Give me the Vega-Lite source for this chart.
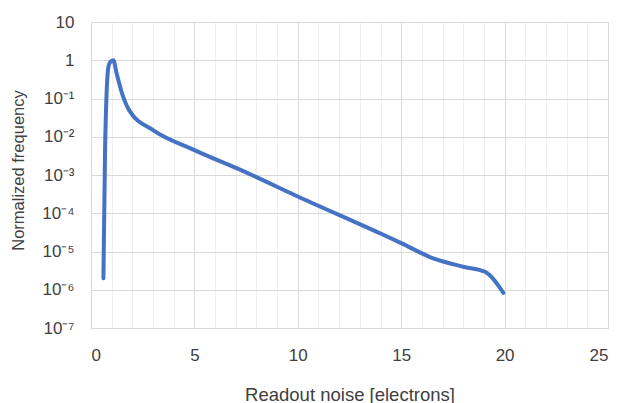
{
  "$schema": "https://vega.github.io/schema/vega-lite/v6.json",
  "width": 517,
  "height": 306,
  "autosize": {"type": "none"},
  "padding": {"left": 91, "top": 22, "right": 9, "bottom": 75},
  "background": "white",
  "config": {"view": {"stroke": null}, "font": "Liberation Sans"},
  "data": {
    "values": [
      {"noise": 0.6, "freq": 2.0e-6},
      {"noise": 0.68, "freq": 4.5e-3},
      {"noise": 0.76, "freq": 0.166},
      {"noise": 0.85, "freq": 0.71},
      {"noise": 0.95, "freq": 0.93},
      {"noise": 1.08, "freq": 1.0},
      {"noise": 1.24, "freq": 0.45},
      {"noise": 1.48, "freq": 0.148},
      {"noise": 1.85, "freq": 0.049},
      {"noise": 3.0, "freq": 0.0148},
      {"noise": 5.0, "freq": 0.00447},
      {"noise": 7.5, "freq": 0.00117},
      {"noise": 10.0, "freq": 0.000275},
      {"noise": 14.0, "freq": 2.95e-5},
      {"noise": 15.0, "freq": 1.66e-5},
      {"noise": 16.55, "freq": 6.6e-6},
      {"noise": 18.0, "freq": 4.0e-6},
      {"noise": 19.05, "freq": 2.95e-6},
      {"noise": 19.94, "freq": 8.3e-7}
    ]
  },
  "mark": {"type": "line", "color": "#4472C4", "strokeWidth": 4, "interpolate": "monotone", "strokeCap": "round", "strokeJoin": "round"},
  "encoding": {
    "x": {
      "field": "noise", "type": "quantitative",
      "scale": {"domain": [0, 25], "nice": false, "zero": false},
      "axis": {
        "title": "Readout noise [electrons]",
        "values": [0,1,2,3,4,5,6,7,8,9,10,11,12,13,14,15,16,17,18,19,20,21,22,23,24,25],
        "labelExpr": "datum.value % 5 === 0 ? datum.label : ''",
        "grid": true,
        "gridColor": {"condition": {"test": "datum.value % 5 === 0", "value": "#d9d9d9"}, "value": "#efefef"},
        "gridWidth": 1,
        "ticks": false,
        "domain": true, "domainColor": "#d9d9d9",
        "labelFontSize": 17, "labelColor": "#404040", "labelPadding": 19,
        "titleFontSize": 18.5, "titleFontWeight": "normal", "titleColor": "#404040", "titlePadding": 22
      }
    },
    "y": {
      "field": "freq", "type": "quantitative",
      "scale": {"type": "log", "domain": [1e-7, 10], "nice": false},
      "axis": {
        "title": "Normalized frequency",
        "values": [1e-7, 1e-6, 1e-5, 1e-4, 1e-3, 1e-2, 1e-1, 1, 10],
        "labelExpr": "datum.value >= 10 ? '10' : datum.value >= 1 ? '1' : datum.value >= 0.09 ? '10⁻¹' : datum.value >= 0.009 ? '10⁻²' : datum.value >= 0.0009 ? '10⁻³' : datum.value >= 0.00009 ? '10⁻⁴' : datum.value >= 0.000009 ? '10⁻⁵' : datum.value >= 0.0000009 ? '10⁻⁶' : '10⁻⁷'",
        "grid": true, "gridColor": "#d9d9d9",
        "ticks": false,
        "domain": true, "domainColor": "#d9d9d9",
        "labelFontSize": 17, "labelColor": "#404040", "labelPadding": 17,
        "titleFontSize": 16.5, "titleFontWeight": "normal", "titleColor": "#404040",
        "titleX": -73, "titleY": 148, "titleBaseline": "middle", "titleAlign": "center", "titleAngle": -90
      }
    }
  }
}
